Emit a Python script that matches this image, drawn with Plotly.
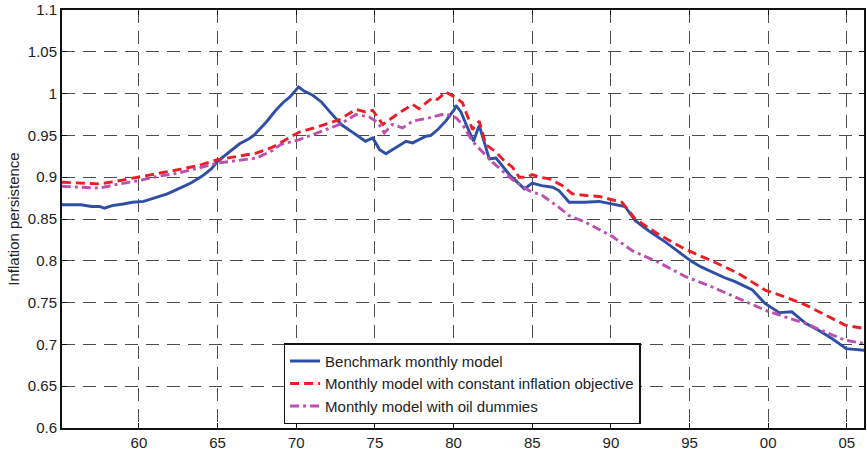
import plotly.graph_objects as go

# ---- data ----
bench_years = [1955.1, 1956.3, 1957.0, 1957.5, 1957.8, 1958.3, 1959.0, 1959.6, 1960.3, 1961.0,
               1961.8, 1962.5, 1963.3, 1964.0, 1964.6, 1965.0, 1965.7, 1966.4, 1967.0, 1967.3,
               1968.1, 1968.7, 1969.2, 1969.6, 1970.15, 1970.5, 1971.05, 1971.6, 1972.1, 1972.5,
               1972.86, 1973.4, 1973.8, 1974.4, 1974.86, 1975.3, 1975.7, 1976.3, 1976.98, 1977.4,
               1977.9, 1978.25, 1978.56, 1979.0, 1979.5, 1980.05, 1980.15, 1980.47, 1980.8, 1981.27,
               1981.63, 1982.0, 1982.27, 1982.7, 1983.0, 1983.55, 1984.0, 1984.5, 1985.0, 1985.6,
               1986.3, 1986.7, 1987.35, 1988.3, 1989.25, 1990.1, 1990.9, 1991.55, 1992.4, 1993.5,
               1994.3, 1995.07, 1995.7, 1996.4, 1997.2, 1997.9, 1998.5, 1999.0, 1999.8, 2000.7,
               2001.5, 2002.4, 2003.2, 2004.05, 2004.96, 2006.1]
bench_vals = [0.867, 0.867, 0.865, 0.865, 0.863, 0.866, 0.868, 0.870, 0.871, 0.875,
              0.880, 0.886, 0.893, 0.901, 0.910, 0.919, 0.929, 0.940, 0.946, 0.950,
              0.966, 0.980, 0.990, 0.996, 1.008, 1.003, 0.998, 0.990, 0.979, 0.970,
              0.963, 0.956, 0.951, 0.943, 0.947, 0.933, 0.928, 0.935, 0.943, 0.941,
              0.946, 0.949, 0.950, 0.957, 0.967, 0.981, 0.986, 0.978, 0.963, 0.943,
              0.962, 0.940, 0.922, 0.923, 0.916, 0.903, 0.895, 0.886, 0.893, 0.890,
              0.888, 0.884, 0.870, 0.870, 0.871, 0.868, 0.865, 0.848, 0.836, 0.822,
              0.811, 0.800, 0.793, 0.787, 0.780, 0.775, 0.769, 0.765, 0.749, 0.738,
              0.739, 0.725, 0.717, 0.707, 0.695, 0.693]

const_years = [1955.1, 1956.0, 1957.5, 1958.5, 1960.0, 1961.2, 1962.5, 1963.8, 1965.0, 1966.3,
               1967.5, 1968.5, 1969.3, 1970.2, 1971.5, 1972.75, 1973.8, 1974.4, 1974.86, 1975.5,
               1975.8, 1976.55, 1977.4, 1977.8, 1978.67, 1978.98, 1979.5, 1980.15, 1980.57, 1981.2,
               1981.63, 1982.05, 1982.7, 1983.2, 1983.74, 1984.17, 1984.7, 1985.0, 1985.5, 1986.1,
               1986.9, 1987.55, 1988.5, 1989.25, 1990.7, 1991.55, 1993.0, 1994.7, 1996.4, 1998.1,
               1999.8, 2001.05, 2002.4, 2003.6, 2004.9, 2006.1]
const_vals = [0.894, 0.893, 0.892, 0.895, 0.900, 0.904, 0.909, 0.914, 0.921, 0.925,
              0.929, 0.936, 0.944, 0.954, 0.961, 0.969, 0.981, 0.978, 0.980, 0.963,
              0.967, 0.977, 0.987, 0.982, 0.995, 0.993, 1.002, 0.995, 0.989, 0.957,
              0.967, 0.939, 0.930, 0.920, 0.912, 0.900, 0.900, 0.903, 0.900, 0.898,
              0.890, 0.880, 0.878, 0.877, 0.870, 0.850, 0.832, 0.814, 0.800, 0.785,
              0.765, 0.757, 0.747, 0.735, 0.723, 0.719]

oil_years = [1955.1, 1956.0, 1957.5, 1958.5, 1960.0, 1961.2, 1962.5, 1963.8, 1965.0, 1966.3,
             1967.5, 1968.5, 1969.0, 1970.2, 1971.6, 1972.75, 1973.8, 1974.65, 1975.2, 1975.6,
             1976.1, 1976.76, 1977.4, 1978.46, 1979.5, 1980.15, 1980.57, 1981.2, 1981.6, 1982.47,
             1982.9, 1983.74, 1984.8, 1985.65, 1986.7, 1987.35, 1988.4, 1990.1, 1991.36, 1993.05,
             1994.75, 1996.4, 1998.1, 1999.8, 2001.05, 2002.4, 2003.6, 2004.9, 2006.1]
oil_vals = [0.889, 0.888, 0.887, 0.891, 0.896, 0.901, 0.905, 0.911, 0.917, 0.920,
            0.923, 0.932, 0.939, 0.945, 0.955, 0.963, 0.975, 0.972, 0.965, 0.953,
            0.963, 0.959, 0.967, 0.971, 0.976, 0.971, 0.963, 0.943, 0.935, 0.918,
            0.911, 0.897, 0.884, 0.878, 0.864, 0.854, 0.846, 0.829, 0.812, 0.798,
            0.781, 0.769, 0.755, 0.741, 0.733, 0.725, 0.715, 0.705, 0.701]

x_tickvals = [1960, 1965, 1970, 1975, 1980, 1985, 1990, 1995, 2000, 2005]
x_ticktext = ["60", "65", "70", "75", "80", "85", "90", "95", "00", "05"]
y_tickvals = [0.6, 0.65, 0.7, 0.75, 0.8, 0.85, 0.9, 0.95, 1.0, 1.05, 1.1]
y_ticktext = ["0.6", "0.65", "0.7", "0.75", "0.8", "0.85", "0.9", "0.95", "1", "1.05", "1.1"]

series_names = ["Benchmark monthly model",
                "Monthly model with constant inflation objective",
                "Monthly model with oil dummies"]

FONT = "Liberation Sans, Arial, sans-serif"

fig = go.Figure()
fig.add_trace(go.Scatter(x=bench_years, y=bench_vals, mode="lines", name=series_names[0],
                         line=dict(color="#2f4ea6", width=2.9)))
fig.add_trace(go.Scatter(x=const_years, y=const_vals, mode="lines", name=series_names[1],
                         line=dict(color="#ee1c25", width=2.9, dash="9px,5px")))
fig.add_trace(go.Scatter(x=oil_years, y=oil_vals, mode="lines", name=series_names[2],
                         line=dict(color="#bd4fb0", width=2.9, dash="9px,4px,3px,4px")))

grid = dict(showgrid=True, gridcolor="#4d4d4d", gridwidth=1, griddash="13px,8px")

fig.update_layout(
    width=867, height=452,
    margin=dict(l=62, r=1, t=10, b=21),
    paper_bgcolor="white", plot_bgcolor="white",
    font=dict(family=FONT, size=15, color="#222222"),
    showlegend=True,
    legend=dict(x=0.2763, y=0.009, xanchor="left", yanchor="bottom",
                bgcolor="white", bordercolor="#111111", borderwidth=1.5,
                font=dict(family=FONT, size=15, color="#222222"),
                itemwidth=30, tracegroupgap=0),
    xaxis=dict(range=[1955.11, 2006.09], tickvals=x_tickvals, ticktext=x_ticktext,
               ticks="inside", ticklen=5, tickwidth=1.2, tickcolor="#111111",
               showline=True, linecolor="#111111", linewidth=2, mirror="ticks",
               zeroline=False, tickfont=dict(size=15), **grid),
    yaxis=dict(range=[0.6, 1.1], tickvals=y_tickvals, ticktext=y_ticktext,
               ticks="inside", ticklen=5, tickwidth=1.2, tickcolor="#111111",
               showline=True, linecolor="#111111", linewidth=2, mirror="ticks",
               zeroline=False, tickfont=dict(size=15),
               title=dict(text="Inflation persistence", font=dict(size=15), standoff=5),
               **grid),
)

fig.write_html("out.html")
